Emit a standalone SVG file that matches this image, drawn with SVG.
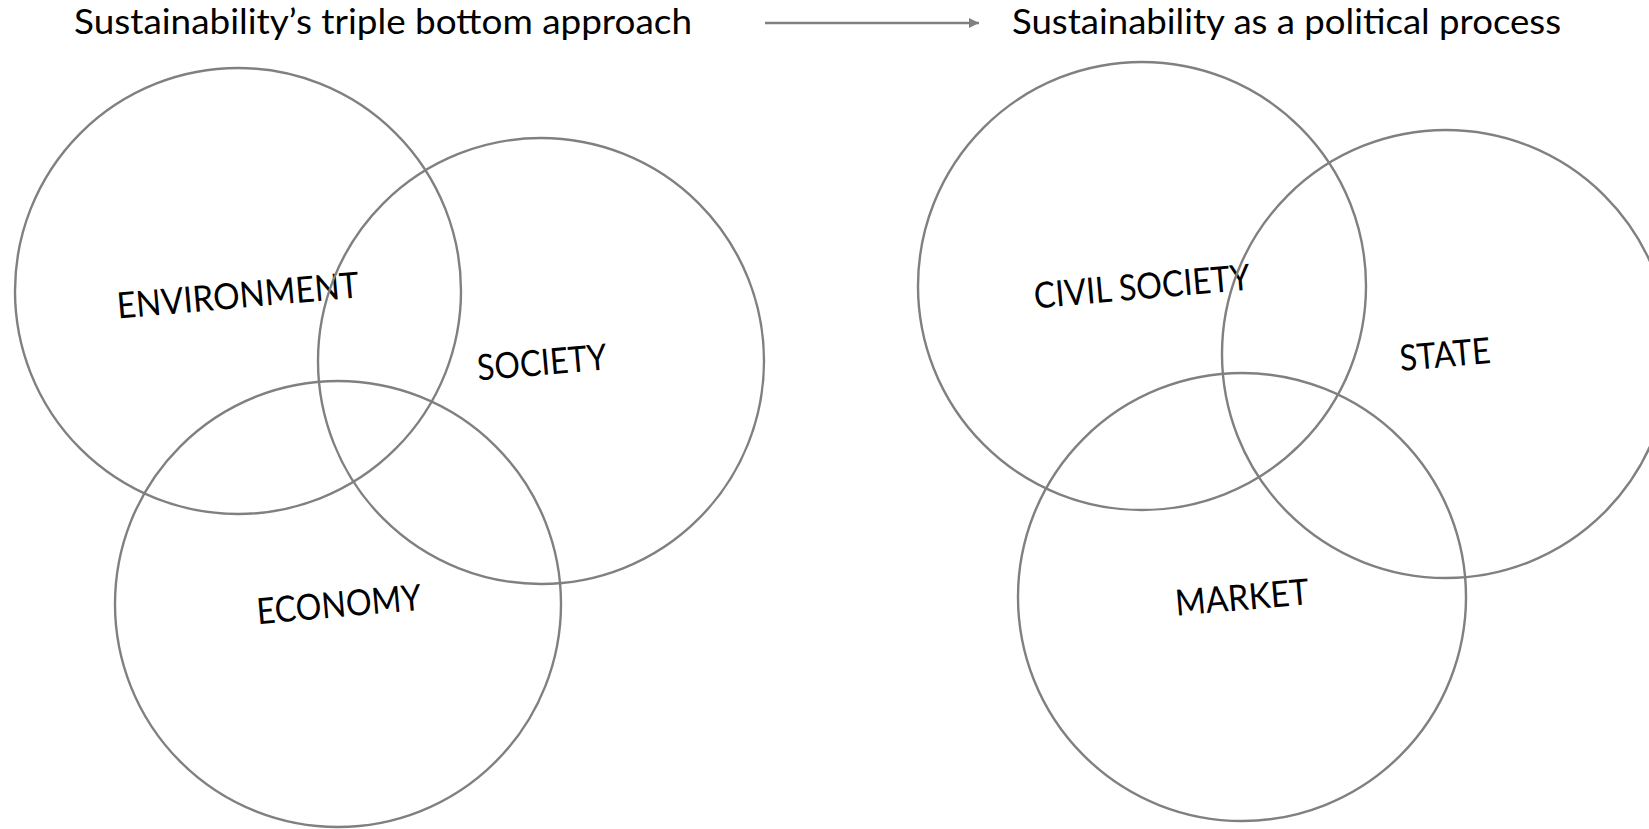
<svg xmlns="http://www.w3.org/2000/svg" width="1649" height="829" viewBox="0 0 1649 829">
<style>
.c{fill:none;stroke:#808080;stroke-width:2.4}
.t{font-family:Lato,"Open Sans","Liberation Sans",sans-serif;font-size:35px;fill:#000}
.l{font-family:Lato,"Open Sans","Liberation Sans",sans-serif;font-size:36px;fill:#000;text-anchor:middle}
</style>
<defs>
<marker id="ah" viewBox="0 0 10 10" refX="10" refY="5" markerWidth="10" markerHeight="10" markerUnits="userSpaceOnUse" orient="auto">
<path d="M0,0 L10,5 L0,10 z" fill="#808080"/>
</marker>
</defs>
<rect width="1649" height="829" fill="#fff"/>
<g id="title-left"><text class="t" x="74" y="34" textLength="618" lengthAdjust="spacingAndGlyphs">Sustainability’s triple bottom approach</text></g>
<g id="title-right"><text class="t" x="1012" y="34" textLength="549" lengthAdjust="spacingAndGlyphs">Sustainability as a political process</text></g>
<g id="connectors"><line x1="765" y1="23" x2="979" y2="23" stroke="#808080" stroke-width="2.4" marker-end="url(#ah)"/></g>
<g id="environment"><circle class="c" cx="238" cy="291" r="223"/><text class="l" x="238" y="308" textLength="243" lengthAdjust="spacingAndGlyphs" transform="rotate(-5 238 296)">ENVIRONMENT</text></g>
<g id="society"><circle class="c" cx="541" cy="361" r="223"/><text class="l" x="542" y="375" textLength="130" lengthAdjust="spacingAndGlyphs" transform="rotate(-5 542 363)">SOCIETY</text></g>
<g id="economy"><circle class="c" cx="338" cy="604" r="223"/><text class="l" x="339" y="617" textLength="165" lengthAdjust="spacingAndGlyphs" transform="rotate(-5 339 605)">ECONOMY</text></g>
<g id="civil-society"><circle class="c" cx="1142" cy="286" r="224"/><text class="l" x="1142" y="299" textLength="217" lengthAdjust="spacingAndGlyphs" transform="rotate(-5 1142 287)">CIVIL SOCIETY</text></g>
<g id="state"><circle class="c" cx="1446" cy="354" r="224"/><text class="l" x="1445" y="367" textLength="91" lengthAdjust="spacingAndGlyphs" transform="rotate(-5 1445 355)">STATE</text></g>
<g id="market"><circle class="c" cx="1242" cy="597" r="224"/><text class="l" x="1242" y="610" textLength="134" lengthAdjust="spacingAndGlyphs" transform="rotate(-5 1242 598)">MARKET</text></g>
</svg>
